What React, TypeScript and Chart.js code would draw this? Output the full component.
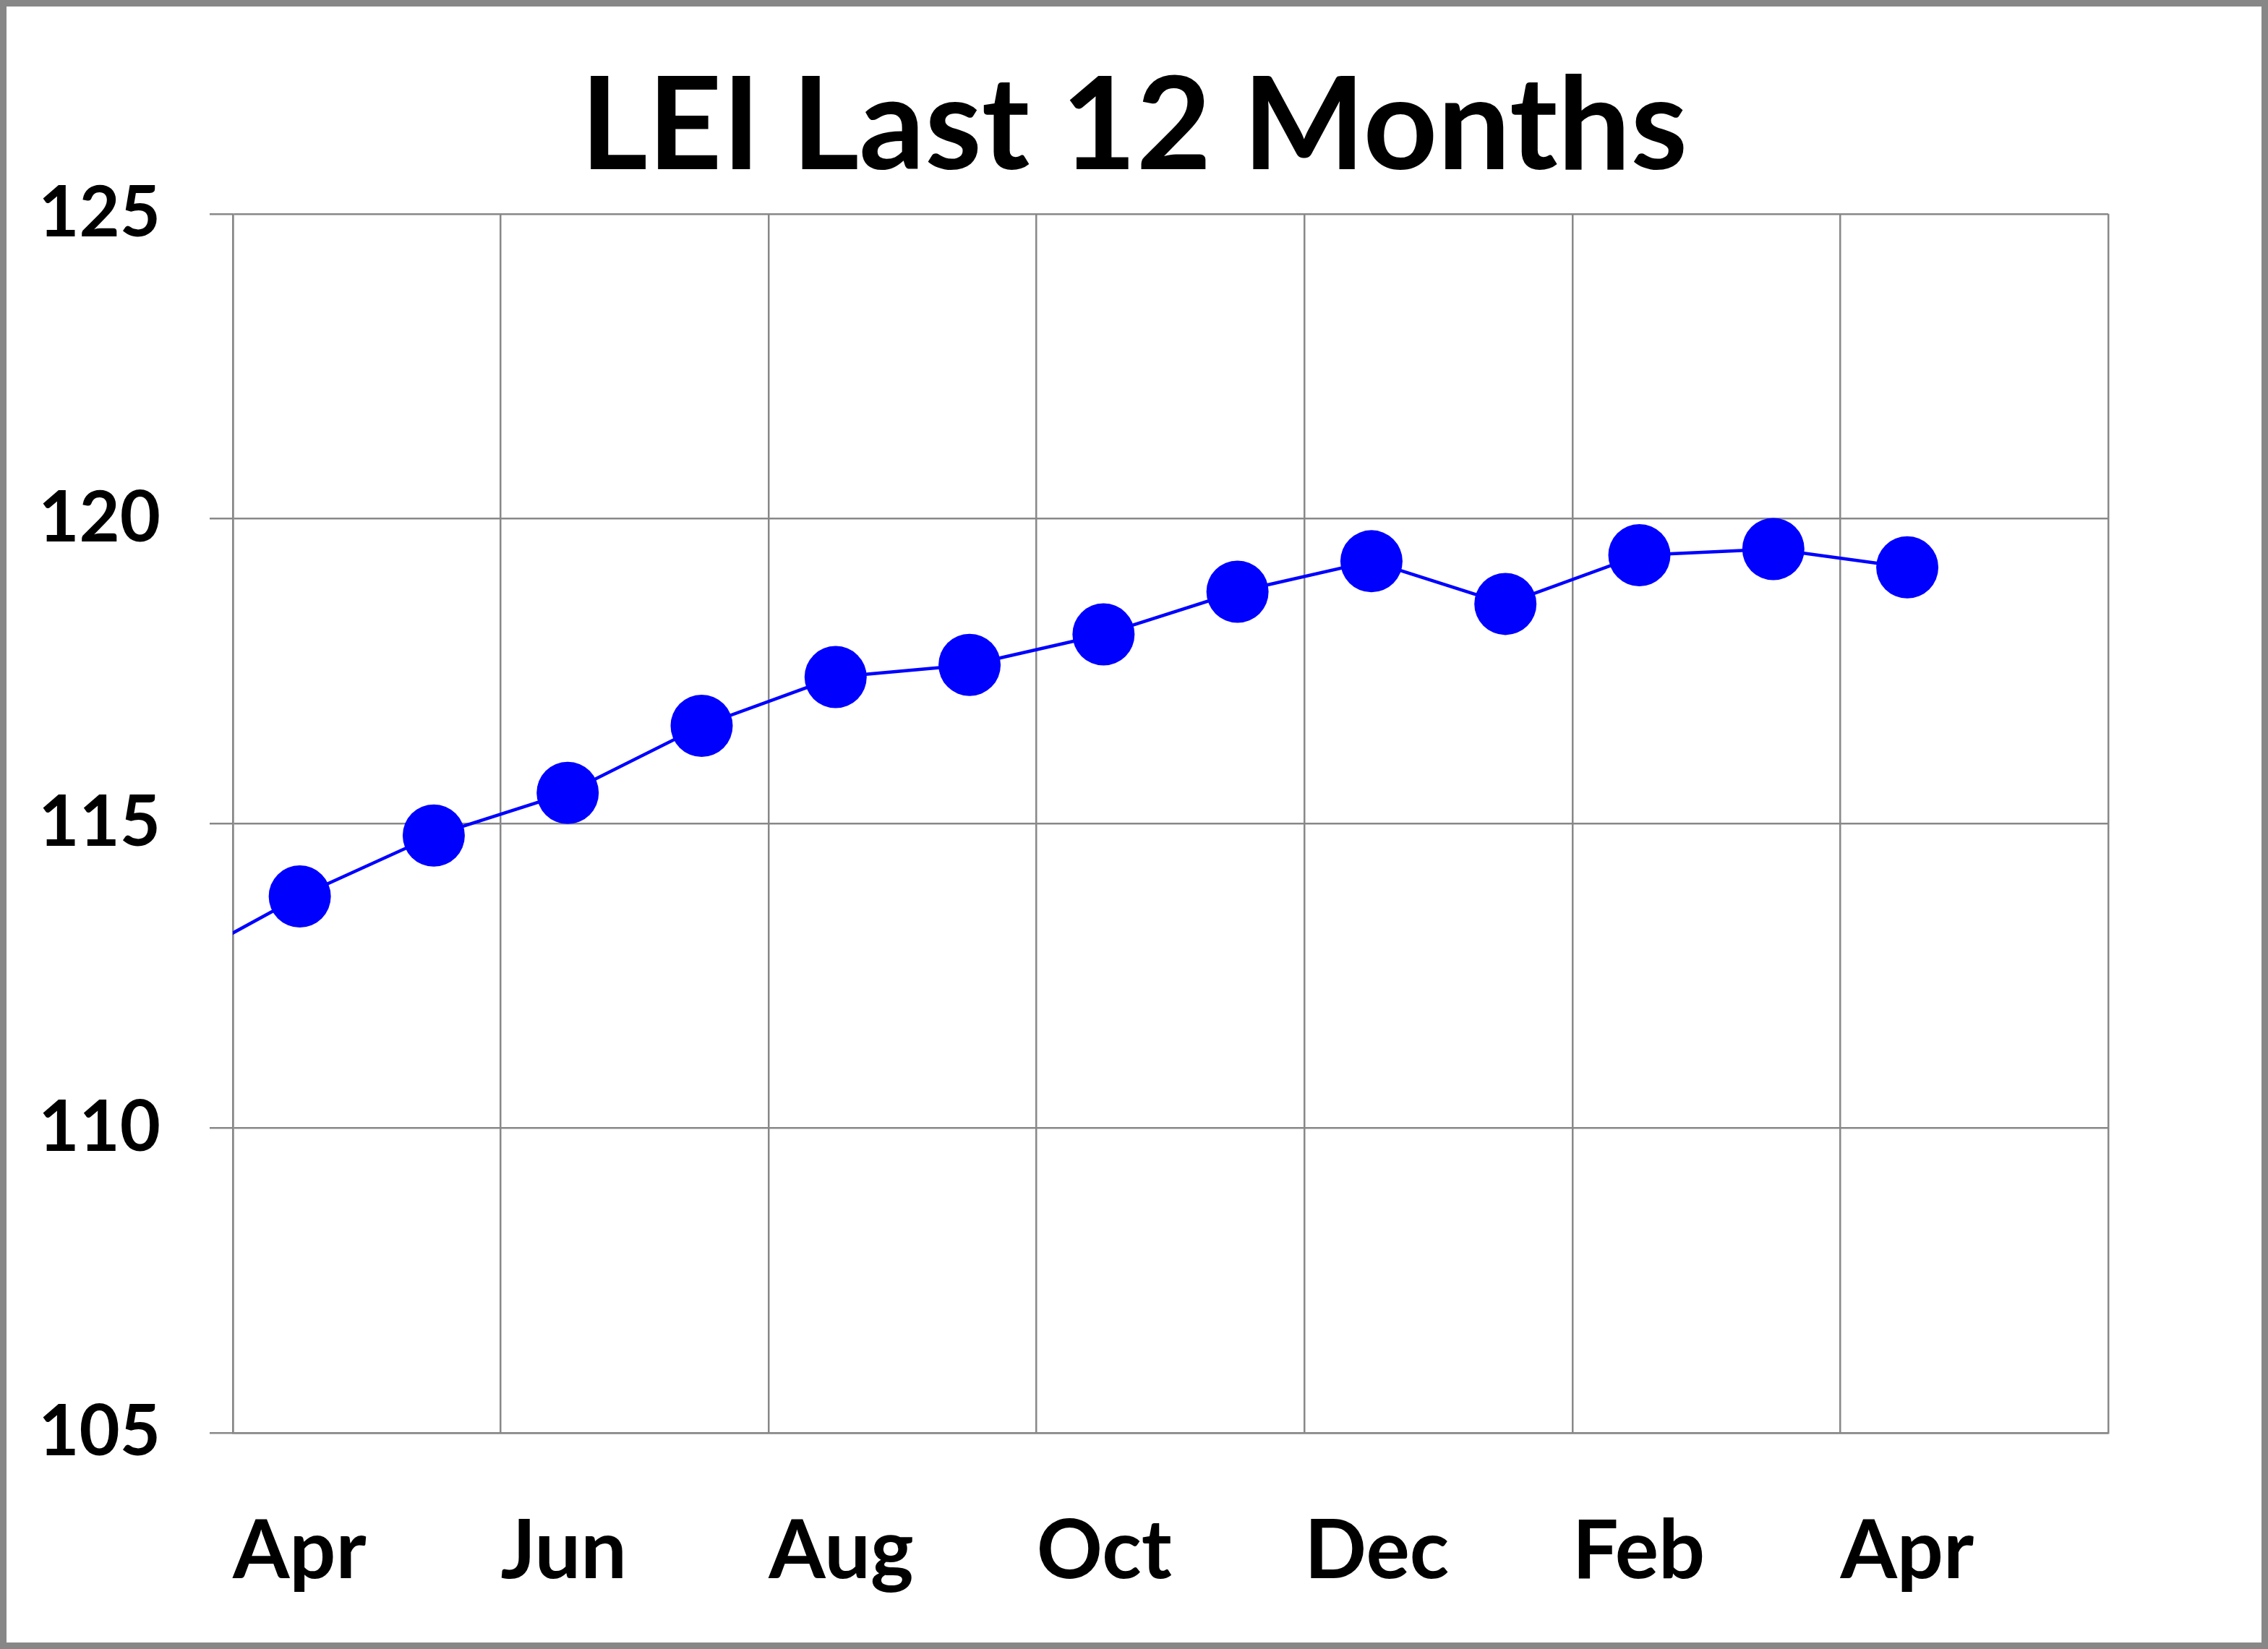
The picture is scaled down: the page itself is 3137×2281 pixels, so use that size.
import React, { useEffect, useRef } from "react";
import { Chart, registerables } from "chart.js";

Chart.register(...registerables);

// Months in the series (first one is the prior month that falls just left of the plot)
const months = ["Mar", "Apr", "May", "Jun", "Jul", "Aug", "Sep", "Oct", "Nov", "Dec", "Jan", "Feb", "Mar", "Apr"];
const leiValues = [112.6, 113.8, 114.8, 115.5, 116.6, 117.4, 117.6, 118.1, 118.8, 119.3, 118.6, 119.4, 119.5, 119.2];
const xTickLabels = ["Apr", "Jun", "Aug", "Oct", "Dec", "Feb", "Apr", ""];
const yTicks = [105, 110, 115, 120, 125];
const titleText = "LEI Last 12 Months";

const W = 3137;
const H = 2281;
const GRID = "#888888";
const FONT = "Lato, 'Open Sans', sans-serif";

export default function App() {
  const ref = useRef<HTMLCanvasElement | null>(null);

  useEffect(() => {
    document.body.style.margin = "0";
    const canvas = ref.current;
    if (!canvas) return;

    const frame = {
      id: "frame",
      beforeDraw(chart: any) {
        const ctx = chart.ctx;
        ctx.save();
        ctx.fillStyle = "#ffffff";
        ctx.fillRect(0, 0, chart.width, chart.height);
        ctx.restore();
      },
      afterDraw(chart: any) {
        const ctx = chart.ctx;
        ctx.save();
        ctx.strokeStyle = "#878787";
        ctx.lineWidth = 9;
        ctx.strokeRect(4.5, 4.5, chart.width - 9, chart.height - 9);
        ctx.restore();
      },
    };

    // first data month (prior March) sits half a month left of the first gridline
    const points = leiValues.map((v, i) => ({ x: i - 0.5, y: v }));

    const chart = new Chart(canvas, {
      type: "line",
      data: {
        labels: months,
        datasets: [
          {
            label: "LEI",
            data: points,
            borderColor: "#0000FF",
            backgroundColor: "#0000FF",
            borderWidth: 4.5,
            pointRadius: 43,
            pointBackgroundColor: "#0000FF",
            pointBorderWidth: 0,
            pointHoverRadius: 43,
            tension: 0,
            yAxisID: "y",
          },
        ],
      },
      options: {
        responsive: false,
        animation: false,
        devicePixelRatio: 1,
        layout: { padding: { top: 69, left: 0, right: 0, bottom: 0 } },
        plugins: {
          legend: { display: false },
          tooltip: { enabled: false },
          title: {
            display: true,
            text: titleText,
            color: "#000000",
            font: { family: FONT, size: 179, weight: "bold" },
            padding: { top: 0, bottom: 12 },
          },
        },
        scales: {
          x: {
            type: "linear",
            min: 0,
            max: 14,
            afterFit(scale: any) {
              scale.height = 299;
            },
            afterBuildTicks(scale: any) {
              scale.ticks = xTickLabels.map((_, i) => ({ value: i * 2 }));
            },
            ticks: {
              stepSize: 2,
              autoSkip: false,
              maxRotation: 0,
              minRotation: 0,
              align: "start",
              padding: 97,
              color: "#000000",
              font: { family: FONT, size: 113, weight: "bold" },
              callback: (v: any) => xTickLabels[Math.round(Number(v) / 2)] ?? "",
            },
            grid: { color: GRID, lineWidth: 2.5, drawTicks: false },
            border: { display: true, color: GRID, width: 2.5 },
          },
          y: {
            position: "left",
            min: 105,
            max: 125,
            afterFit(scale: any) {
              scale.width = 322;
            },
            afterBuildTicks(scale: any) {
              scale.ticks = yTicks.map((v) => ({ value: v }));
            },
            ticks: {
              stepSize: 5,
              padding: 68,
              color: "#000000",
              font: { family: FONT, size: 97, weight: "bold" },
            },
            grid: { color: GRID, lineWidth: 2.5, tickLength: 32, drawTicks: true },
            border: { display: true, color: GRID, width: 2.5 },
          },
          yRight: {
            position: "right",
            min: 105,
            max: 125,
            afterFit(scale: any) {
              scale.width = 221;
            },
            ticks: { display: false },
            grid: { display: false, drawTicks: false },
            border: { display: false },
          },
        },
      },
      plugins: [frame],
    } as any);

    return () => chart.destroy();
  }, []);

  return (
    <div style={{ width: W, height: H }}>
      <canvas ref={ref} width={W} height={H} style={{ width: W, height: H, display: "block" }} />
    </div>
  );
}
